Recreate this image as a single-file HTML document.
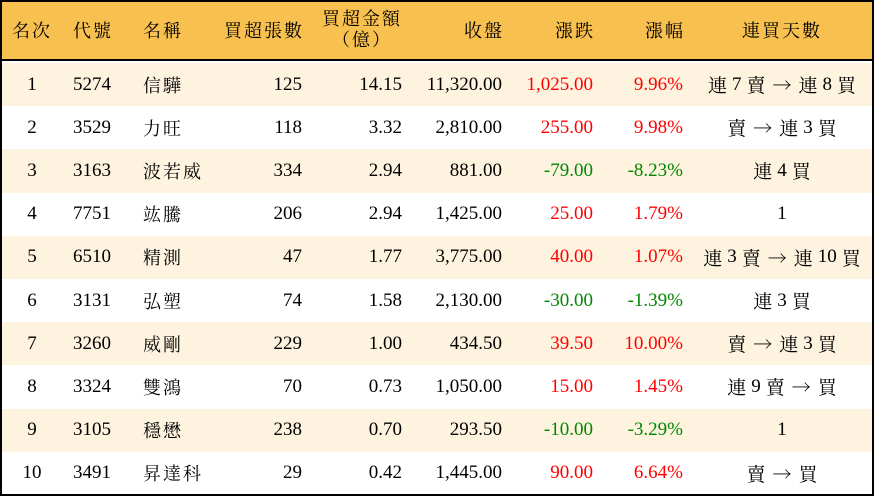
<!DOCTYPE html>
<html><head><meta charset="utf-8"><style>
*{margin:0;padding:0;box-sizing:border-box}
body{width:874px;height:496px;background:#fff;position:relative;overflow:hidden;font-family:"Liberation Serif","Noto Serif CJK SC",serif;font-size:19px;color:#000}
#frame{position:absolute;left:0;top:0;width:874px;height:496px;border:2px solid #000;}
.hdr{position:absolute;left:0;top:0;width:874px;height:61px;background:#f8c04e;border-bottom:2px solid #000}
.row{position:absolute;left:0;width:874px;height:43.2px}
.c{position:absolute;top:0;height:100%;display:flex;align-items:center;white-space:nowrap}
.r{color:#f00}.g{color:#080}
.h{letter-spacing:2px;font-size:18px}
.k{font-size:18px;letter-spacing:2px}
.a{font-family:"Noto Serif CJK SC",serif;margin:0 7px}
.w{margin:0 5px}
</style></head><body>
<div class="hdr">
<div class="c h" style="left:12px;width:44px">名次</div>
<div class="c h" style="left:73px">代號</div>
<div class="c h" style="left:143px">名稱</div>
<div class="c h" style="left:220px;width:84px;justify-content:flex-end">買超張數</div>
<div class="c h" style="left:318px;width:88px;justify-content:center;flex-direction:column;line-height:21px;text-align:center">買超金額<br>（億）</div>
<div class="c h" style="left:420px;width:84px;justify-content:flex-end">收盤</div>
<div class="c h" style="left:510px;width:85px;justify-content:flex-end">漲跌</div>
<div class="c h" style="left:600px;width:85px;justify-content:flex-end">漲幅</div>
<div class="c h" style="left:692px;width:180px;justify-content:center">連買天數</div>
</div>
<div id="rows"></div>
<div id="frame"></div>
<script>
const d=[
["1","5274","信驊","125","14.15","11,320.00","1,025.00","9.96%","連 7 賣 → 連 8 買","r"],
["2","3529","力旺","118","3.32","2,810.00","255.00","9.98%","賣 → 連 3 買","r"],
["3","3163","波若威","334","2.94","881.00","-79.00","-8.23%","連 4 買","g"],
["4","7751","竑騰","206","2.94","1,425.00","25.00","1.79%","1","r"],
["5","6510","精測","47","1.77","3,775.00","40.00","1.07%","連 3 賣 → 連 10 買","r"],
["6","3131","弘塑","74","1.58","2,130.00","-30.00","-1.39%","連 3 買","g"],
["7","3260","威剛","229","1.00","434.50","39.50","10.00%","賣 → 連 3 買","r"],
["8","3324","雙鴻","70","0.73","1,050.00","15.00","1.45%","連 9 賣 → 買","r"],
["9","3105","穩懋","238","0.70","293.50","-10.00","-3.29%","1","g"],
["10","3491","昇達科","29","0.42","1,445.00","90.00","6.64%","賣 → 買","r"]];
let h="";
d.forEach((r,i)=>{
const last=r[8].split(" ").map(t=>t=="→"?'<span class="a">→</span>':(/\d/.test(t)&&t!="1"||(r[8]!="1"&&/\d/.test(t))?'<span class="w">'+t+'</span>':'<span>'+t+'</span>')).join("");
h+=`<div class="row" style="top:${63+i*43.2}px;background:${i%2==0?'#fdf3de':'#fff'}">
<div class="c" style="left:12px;width:40px;justify-content:center">${r[0]}</div>
<div class="c" style="left:73px">${r[1]}</div>
<div class="c k" style="left:143px">${r[2]}</div>
<div class="c" style="left:220px;width:82px;justify-content:flex-end">${r[3]}</div>
<div class="c" style="left:318px;width:84px;justify-content:flex-end">${r[4]}</div>
<div class="c" style="left:400px;width:102px;justify-content:flex-end">${r[5]}</div>
<div class="c ${r[9]}" style="left:500px;width:93px;justify-content:flex-end">${r[6]}</div>
<div class="c ${r[9]}" style="left:590px;width:93px;justify-content:flex-end">${r[7]}</div>
<div class="c" style="left:692px;width:180px;justify-content:center;font-size:19px">${last}</div>
</div>`;});
document.getElementById("rows").innerHTML=h;
</script>
</body></html>
